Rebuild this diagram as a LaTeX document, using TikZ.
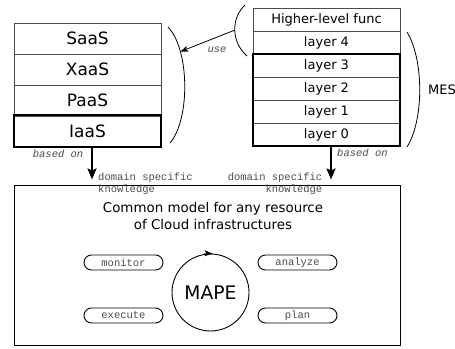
\documentclass[tikz,border=0pt]{standalone}
\usepackage{fontspec}
\setmainfont{DejaVu Sans}
\newfontfamily\monof{Liberation Mono}
\usetikzlibrary{arrows.meta,shapes.misc}
\begin{document}
\begin{tikzpicture}[x=1pt,y=-1pt,
  row/.style={draw=black!70, line width=0.9pt, minimum width=147pt, inner sep=0pt},
  bigrow/.style={row, minimum height=31pt, font=\fontsize{17}{20}\selectfont},
  layrow/.style={row, minimum height=23pt, font=\fontsize{13}{16}\selectfont},
  thickbox/.style={draw=black, line width=2pt},
  lbl/.style={text=black!70, font=\monof\fontsize{10.5}{12}\selectfont, inner sep=0pt},
  ilbl/.style={lbl, font=\monof\itshape\fontsize{10.5}{12}\selectfont},
  pill/.style={draw=black, line width=0.9pt, rounded corners=7.5pt, minimum width=79pt, minimum height=15pt, inner sep=0pt, text=black!70, font=\monof\fontsize{10.5}{12}\selectfont},
  bracket/.style={draw=black, line width=0.8pt},
  bigarrow/.style={draw=black, line width=2pt, -{Stealth[length=11pt,width=9pt,inset=2pt]}},
  usearrow/.style={draw=black, line width=0.8pt, -{Stealth[length=8pt,width=6pt,inset=2pt]}}
]
\useasboundingbox (0,0) rectangle (455,348);
% left stack
\node[bigrow] (saas) at (87.5,38.5) {SaaS};
\node[bigrow] (xaas) at (87.5,69.5) {XaaS};
\node[bigrow] (paas) at (87.5,100.5) {PaaS};
\node[bigrow] (iaas) at (87.5,131) {IaaS};
\draw[thickbox] (iaas.north west) rectangle (iaas.south east);
% right stack
\node[layrow] (hlf) at (326.5,19.5) {Higher-level func};
\node[layrow] (l4) at (326.5,42.5) {layer 4};
\node[layrow] (l3) at (326.5,65.5) {layer 3};
\node[layrow] (l2) at (326.5,88.5) {layer 2};
\node[layrow] (l1) at (326.5,111.5) {layer 1};
\node[layrow] (l0) at (326.5,134.5) {layer 0};
\draw[thickbox] (l3.north west) rectangle (l0.south east);
% brackets
\draw[bracket] (168,27) .. controls (190,50) and (190,120) .. (170,143) coordinate[pos=0.25] (useend);
\draw[bracket] (245,5) .. controls (231,18) and (231,42) .. (247,56) coordinate[pos=0.5] (usestart);
\draw[bracket] (407,32) .. controls (424,60) and (424,120) .. (407,147);
\node[anchor=west, inner sep=0pt, font=\fontsize{13}{16}\selectfont] (mes) at (428,90) {MES};
\draw[usearrow] (usestart) -- (useend);
\node[ilbl] (use) at (217,50) {use};
% main box
\node[draw=black, line width=1pt, minimum width=386pt, minimum height=160pt, inner sep=0pt] (main) at (207,265) {};
\node[align=center, font=\fontsize{13.4}{17}\selectfont, inner sep=0pt] (title) at (213,216.5) {Common model for any resource\\of Cloud infrastructures};
% arrows
\coordinate (la) at (92,146.5);
\coordinate (ra) at (331,146.5);
\draw[bigarrow, shorten >=5pt] (la) -- (la |- main.north);
\draw[bigarrow, shorten >=5pt] (ra) -- (ra |- main.north);
\node[ilbl, anchor=east] (bo1) at (83.5,154) {based on};
\node[ilbl, anchor=west] (bo2) at (337,153) {based on};
\node[lbl, anchor=north west, align=left] (dk1) at (98,172.5) {domain specific\\knowledge};
\node[lbl, anchor=north east, align=right] (dk2) at (322.5,172.5) {domain specific\\knowledge};
% MAPE
\node[draw=black, line width=0.9pt, circle, minimum size=77pt, inner sep=0pt, font=\fontsize{18.7}{22}\selectfont] (mape) at (210.5,292.5) {MAPE};
\draw[line width=0.9pt, -{Stealth[length=8pt,width=6pt,inset=2pt]}] (mape.100) to[bend left=6] ([xshift=2pt]mape.north);
\node[pill] (monitor) at (123.5,262.5) {monitor};
\node[pill] (execute) at (123.5,315.5) {execute};
\node[pill] (analyze) at (297.5,262.5) {analyze};
\node[pill] (plan) at (297.5,315.5) {plan};
\end{tikzpicture}
\end{document}
